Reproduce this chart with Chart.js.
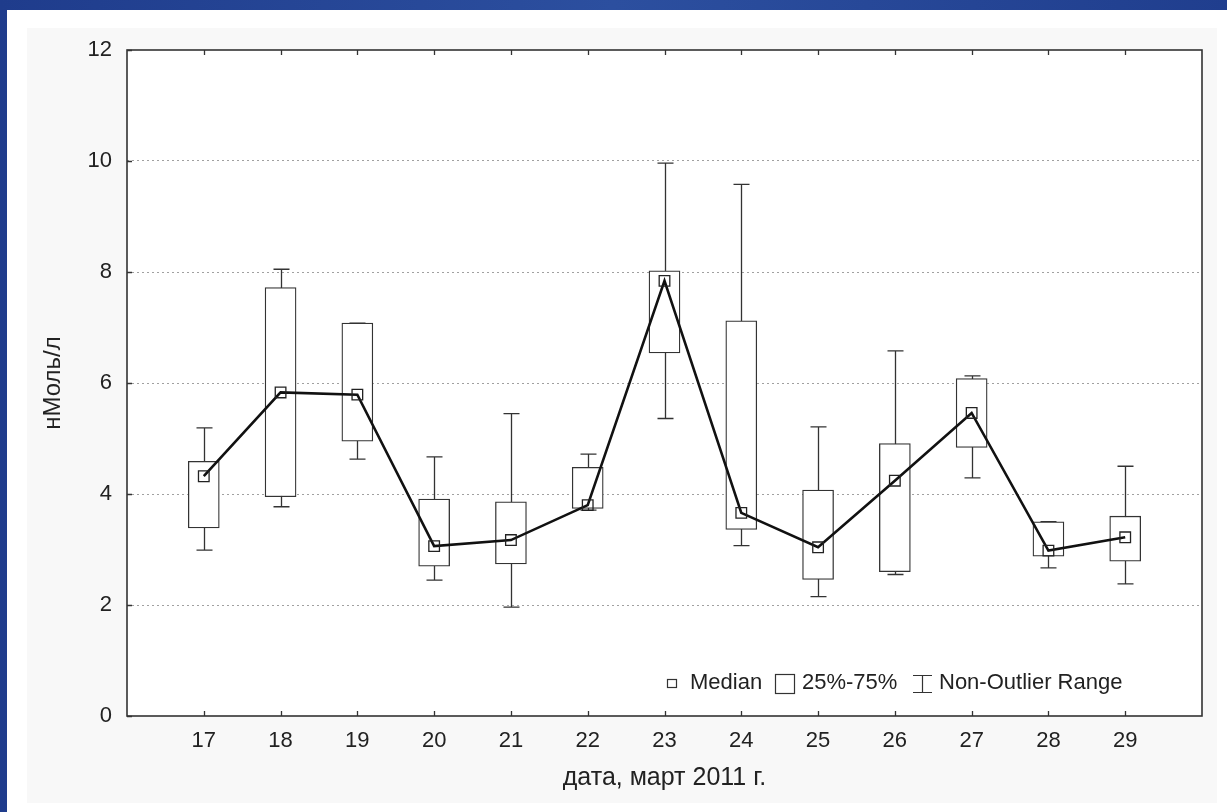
<!DOCTYPE html>
<html><head><meta charset="utf-8">
<script src="https://cdn.jsdelivr.net/npm/chart.js@4.4.1/dist/chart.umd.min.js"></script>
<style>html,body{margin:0;padding:0;background:#fff;overflow:hidden}#wrap{width:1227px;height:812px;position:relative}</style>
</head><body><div id="wrap"><canvas id="c"></canvas></div>
<script>
const days = [17,18,19,20,21,22,23,24,25,26,27,28,29];
const medians = [4.32,5.83,5.79,3.06,3.17,3.80,7.84,3.66,3.04,4.24,5.46,2.98,3.22];
const q1 = [3.39,3.95,4.95,2.70,2.74,3.74,6.54,3.36,2.46,2.60,4.84,2.88,2.79];
const q3 = [4.59,7.72,7.08,3.91,3.86,4.48,8.02,7.12,4.07,4.91,6.08,3.50,3.60];
const whiskerMin = [2.99,3.77,4.63,2.45,1.96,3.71,5.36,3.07,2.15,2.55,4.29,2.67,2.38];
const whiskerMax = [5.19,8.05,7.08,4.67,5.45,4.72,9.96,9.58,5.21,6.58,6.13,3.50,4.50];
const yTicks = [0,2,4,6,8,10,12];
const xTitle = 'дата, март 2011 г.';
const yTitle = 'нМоль/л';
const legendLabels = ['Median','25%-75%','Non-Outlier Range'];

const FONT = '"Liberation Sans", Arial, sans-serif';
Chart.defaults.font.family = FONT;

const bgPlugin = {
  id: 'bg',
  beforeDraw(chart) {
    const {ctx, width, height, chartArea: a} = chart;
    ctx.save();
    const g = ctx.createLinearGradient(0, 0, width, 0);
    g.addColorStop(0, '#1f3c8c');
    g.addColorStop(0.5, '#2c4f9f');
    g.addColorStop(1, '#203e8e');
    ctx.fillStyle = g;
    ctx.fillRect(0, 0, width, height);
    ctx.fillStyle = '#ffffff';
    ctx.fillRect(7, 10, width - 7, height - 10);
    ctx.fillStyle = '#f8f8f8';
    ctx.fillRect(27, 28, 1190, 775);
    ctx.fillStyle = '#ffffff';
    ctx.fillRect(a.left, a.top, a.right - a.left, a.bottom - a.top);
    ctx.restore();
  }
};

const whiskerPlugin = {
  id: 'whiskers',
  beforeDatasetsDraw(chart) {
    const {ctx, scales: {x, y}} = chart;
    ctx.save();
    ctx.strokeStyle = '#333';
    ctx.lineWidth = 1.3;
    const cap = 8;
    days.forEach((d, i) => {
      const px = Math.round(x.getPixelForValue(d)) + 0.5;
      const yMin = y.getPixelForValue(whiskerMin[i]);
      const yMax = y.getPixelForValue(whiskerMax[i]);
      ctx.beginPath();
      ctx.moveTo(px, yMin); ctx.lineTo(px, yMax);
      ctx.moveTo(px - cap, yMin); ctx.lineTo(px + cap, yMin);
      ctx.moveTo(px - cap, yMax); ctx.lineTo(px + cap, yMax);
      ctx.stroke();
    });
    ctx.restore();
  }
};

const framePlugin = {
  id: 'frame',
  afterDatasetsDraw(chart) {
    const {ctx, chartArea: a, scales: {x, y}} = chart;
    ctx.save();
    ctx.strokeStyle = '#333';
    ctx.lineWidth = 1.6;
    ctx.strokeRect(a.left, a.top, a.right - a.left, a.bottom - a.top);
    ctx.lineWidth = 1.3;
    ctx.beginPath();
    days.forEach(d => {
      const px = Math.round(x.getPixelForValue(d)) + 0.5;
      ctx.moveTo(px, a.top); ctx.lineTo(px, a.top + 5);
      ctx.moveTo(px, a.bottom); ctx.lineTo(px, a.bottom - 5);
    });
    yTicks.forEach(v => {
      const py = Math.round(y.getPixelForValue(v)) + 0.5;
      ctx.moveTo(a.left, py); ctx.lineTo(a.left + 5, py);
    });
    ctx.stroke();
    ctx.restore();
  }
};

const legendPlugin = {
  id: 'customLegend',
  afterDraw(chart) {
    const {ctx} = chart;
    ctx.save();
    ctx.fillStyle = '#222';
    ctx.strokeStyle = '#333';
    ctx.lineWidth = 1.2;
    ctx.font = '22px ' + FONT;
    ctx.textBaseline = 'middle';
    ctx.textAlign = 'left';
    const cy = 683;
    ctx.strokeRect(667.5, 679.5, 9, 8);
    ctx.fillText(legendLabels[0], 690, cy);
    ctx.strokeRect(775.5, 674.5, 19, 19);
    ctx.fillText(legendLabels[1], 802, cy);
    ctx.beginPath();
    ctx.moveTo(922.5, 675); ctx.lineTo(922.5, 693);
    ctx.moveTo(913, 675.5); ctx.lineTo(932, 675.5);
    ctx.moveTo(913, 692.5); ctx.lineTo(932, 692.5);
    ctx.stroke();
    ctx.fillText(legendLabels[2], 939, cy);
    ctx.restore();
  }
};

new Chart(document.getElementById('c'), {
  type: 'bar',
  data: {
    datasets: [
      {
        type: 'line',
        order: 0,
        data: days.map((d, i) => ({x: d, y: medians[i]})),
        borderColor: '#111',
        borderWidth: 2.6,
        tension: 0,
        pointStyle: 'rect',
        pointRadius: 7.5,
        pointBorderWidth: 1.3,
        pointBorderColor: '#222',
        pointBackgroundColor: 'rgba(0,0,0,0)'
      },
      {
        type: 'bar',
        order: 1,
        data: days.map((d, i) => ({x: d, y: [q1[i], q3[i]]})),
        backgroundColor: '#ffffff',
        borderColor: '#333',
        borderWidth: 1.3,
        borderSkipped: false,
        barThickness: 31
      }
    ]
  },
  options: {
    responsive: true,
    maintainAspectRatio: false,
    animation: false,
    devicePixelRatio: 1,
    layout: {padding: {top: 50, right: 25, left: 0, bottom: 0}},
    plugins: {legend: {display: false}, tooltip: {enabled: false}},
    scales: {
      x: {
        type: 'linear',
        min: 16,
        max: 30,
        offset: false,
        afterBuildTicks: s => { s.ticks = days.map(v => ({value: v})); },
        afterFit: s => { s.height = 96; },
        grid: {display: true, drawOnChartArea: false, drawTicks: false, offset: false},
        border: {display: false},
        ticks: {
          autoSkip: false, maxRotation: 0, color: '#222', padding: 12,
          font: {size: 22}, callback: v => String(v)
        },
        title: {display: true, text: xTitle, color: '#222', font: {size: 25}, padding: {top: 0, bottom: 19}}
      },
      y: {
        min: 0,
        max: 12,
        afterBuildTicks: s => { s.ticks = yTicks.map(v => ({value: v})); },
        afterFit: s => { s.width = 127; },
        grid: {
          drawTicks: false,
          lineWidth: 1,
          color: c => (c.tick && (c.tick.value === 0 || c.tick.value === 12)) ? 'rgba(0,0,0,0)' : '#a0a0a0'
        },
        border: {display: false, dash: [2, 3]},
        ticks: {color: '#222', padding: 15, font: {size: 22}},
        title: {display: true, text: yTitle, color: '#222', font: {size: 24}, padding: {top: 39, bottom: 0}}
      }
    }
  },
  plugins: [bgPlugin, whiskerPlugin, framePlugin, legendPlugin]
});
</script>
</body></html>
